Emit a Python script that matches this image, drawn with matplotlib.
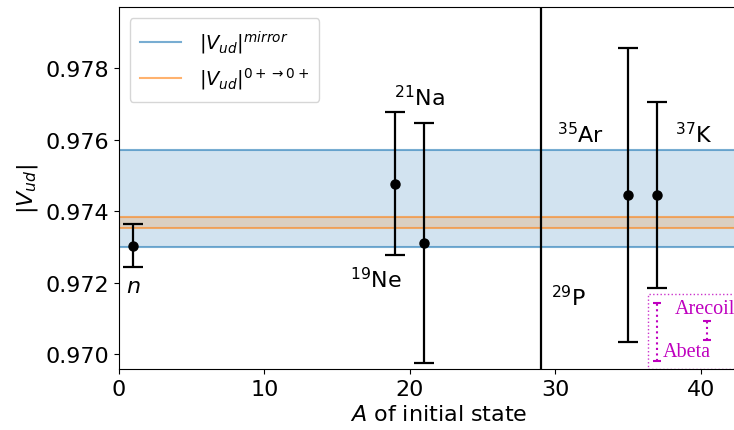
import matplotlib
matplotlib.use("Agg")
import matplotlib.pyplot as plt
from matplotlib.patches import Rectangle

# Data
nuclei = ["$n$", "$^{19}$Ne", "$^{21}$Na", "$^{35}$Ar", "$^{37}$K"]
A_vals = [1, 19, 21, 35, 37]
vud = [0.97303, 0.97477, 0.97310, 0.97445, 0.97445]
vud_err = [0.00060, 0.00200, 0.00336, 0.00412, 0.00260]

mirror_center = 0.97435
mirror_err = 0.00136
superallowed_center = 0.97368
superallowed_err = 0.00016
A_29P = 29

# label anchor positions (data coords)
label_texts = ["$n$", "$^{19}$Ne", "$^{21}$Na", "$^{35}$Ar", "$^{37}$K", "$^{29}$P"]
label_x = [0.5, 15.9, 18.9, 30.1, 38.2, 29.7]
label_y = [0.97190, 0.97210, 0.97720, 0.97616, 0.97616, 0.97162]

fig = plt.figure(figsize=(7.34, 4.31), dpi=100)
ax = fig.add_axes([0.162, 0.1415, 44 * 14.55 / 734, 0.84])

c0 = "#1f77b4"
c1 = "#ff7f0e"
ax.axhspan(mirror_center - mirror_err, mirror_center + mirror_err, color=c0, alpha=0.2, lw=0)
ax.axhline(mirror_center - mirror_err, color=c0, alpha=0.6, lw=1.5)
ax.axhline(mirror_center + mirror_err, color=c0, alpha=0.6, lw=1.5,
           label=r"$|V_{ud}|^{mirror}$")
ax.axhspan(superallowed_center - superallowed_err, superallowed_center + superallowed_err,
           color=c1, alpha=0.2, lw=0)
ax.axhline(superallowed_center - superallowed_err, color=c1, alpha=0.6, lw=1.5)
ax.axhline(superallowed_center + superallowed_err, color=c1, alpha=0.6, lw=1.5,
           label=r"$|V_{ud}|^{0+\rightarrow 0+}$")

ax.axvline(A_29P, color="black", lw=1.6)

ax.errorbar(A_vals, vud, yerr=vud_err, fmt="o", color="black", ms=6.5,
            capsize=7, elinewidth=1.6, capthick=1.6)

for t, x, y in zip(label_texts, label_x, label_y):
    ax.text(x, y, t, fontsize=16, ha="left", va="center")

# magenta inset box
ax.add_patch(Rectangle((36.36, 0.96958), 10, 0.97168 - 0.96958, fill=False,
                       edgecolor="m", ls=":", lw=1.0, alpha=0.8))
eb1 = ax.errorbar([36.98], [0.970615], yerr=[0.000815], fmt="none", ecolor="m",
                  capsize=3, elinewidth=1.5, capthick=1.5)
eb1.lines[2][0].set_linestyle(":")
eb2 = ax.errorbar([40.4], [0.970655], yerr=[0.000265], fmt="none", ecolor="m",
                  capsize=3, elinewidth=1.5, capthick=1.5)
eb2.lines[2][0].set_linestyle(":")
ax.text(38.2, 0.97126, "Arecoil", color="m", fontsize=14.5, family="Liberation Serif",
        ha="left", va="center")
ax.text(37.35, 0.97006, "Abeta", color="m", fontsize=14.5, family="Liberation Serif",
        ha="left", va="center")

ax.set_xlim(0, 44)
ax.set_ylim(0.96958, 0.97971)
ax.set_yticks([0.970, 0.972, 0.974, 0.976, 0.978])
ax.set_xticks([0, 10, 20, 30, 40])
ax.tick_params(labelsize=16)
ax.set_xlabel("$A$ of initial state", fontsize=16)
ax.set_ylabel("$|V_{ud}|$", fontsize=16)

ax.legend(loc="upper left", fontsize=14, handlelength=2.1, borderpad=0.55,
          labelspacing=0.5, handletextpad=0.9, borderaxespad=0.55)

fig.savefig("out.png", dpi=100)
